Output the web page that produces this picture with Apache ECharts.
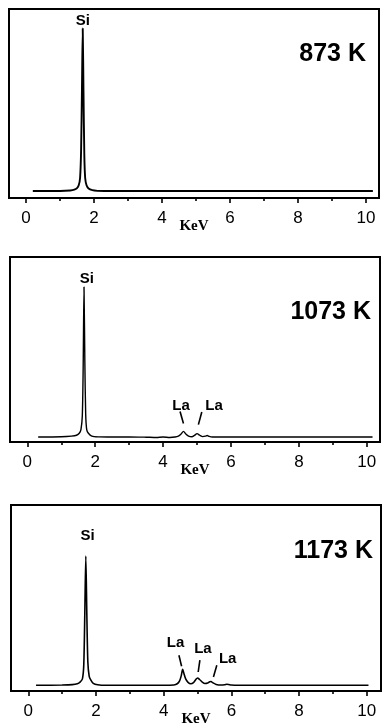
<!DOCTYPE html>
<html>
<head>
<meta charset="utf-8">
<script src="https://cdn.jsdelivr.net/npm/echarts@6/dist/echarts.min.js"></script>
<style>
  html, body { margin: 0; padding: 0; background: #fff; }
  #chart { width: 382px; height: 728px; }
</style>
</head>
<body>
<div id="chart"></div>
<script>
// EDX spectra of the film annealed at three temperatures (intensity in arbitrary units)
const majorTicks = [0, 2, 4, 6, 8, 10];
const minorTicks = [1, 3, 5, 7, 9];
const panelTitles = ['873 K', '1073 K', '1173 K'];

const energy873 = [0.2, 1.0, 1.3, 1.42, 1.5, 1.55, 1.59, 1.62, 1.645, 1.668, 1.69, 1.715, 1.74, 1.78, 1.84, 1.95, 2.1, 2.3, 10.2];
const counts873 = [0, 0, 0.3, 0.8, 1.8, 3.5, 8, 25, 62, 100, 62, 22, 8, 3.5, 1.5, 0.5, 0.1, 0, 0];

const energy1073 = [0.32, 1.0, 1.3, 1.45, 1.53, 1.58, 1.62, 1.645, 1.67, 1.695, 1.72, 1.75, 1.8, 1.9, 2.1, 2.5, 3.0, 3.5, 3.8, 4.0, 4.2, 4.35, 4.45, 4.53, 4.6, 4.67, 4.75, 4.85, 4.93, 5.0, 5.08, 5.17, 5.25, 5.3, 5.36, 5.45, 6.0, 10.17];
const counts1073 = [0, 0.2, 0.6, 1.2, 2.5, 5, 14, 45, 100, 50, 15, 5, 2.5, 0.6, 0.1, 0, 0.1, -0.1, -0.3, 0, -0.3, 0, 0.6, 2, 3.8, 2, 0.6, 0.2, 1.2, 2.3, 1.2, 0.3, 0.6, 1.0, 0.4, 0, 0, 0];

const energy1173 = [0.23, 1.0, 1.3, 1.45, 1.53, 1.6, 1.64, 1.67, 1.7, 1.73, 1.76, 1.8, 1.85, 1.92, 2.05, 2.3, 3.0, 4.0, 4.3, 4.4, 4.47, 4.52, 4.56, 4.6, 4.65, 4.72, 4.8, 4.88, 4.95, 5.0, 5.06, 5.14, 5.22, 5.3, 5.36, 5.4, 5.45, 5.55, 5.7, 5.8, 5.87, 5.92, 6.0, 6.2, 10.05];
const counts1173 = [0, 0.2, 0.5, 1.2, 2.5, 5, 16, 55, 100, 55, 18, 7, 4, 1.5, 0.4, 0, 0, 0, 0.3, 1.2, 3.5, 7.5, 12.4, 9, 5, 2.3, 1.2, 2, 4.5, 5.7, 4.5, 2.5, 1.4, 1.8, 2.8, 2.9, 2, 0.7, 0.2, 0.4, 0.8, 0.6, 0.2, 0, 0];

// peak labels: [energy, intensity, text]
const labels873 = [[1.67, 104.6, 'Si']];
const labels1073 = [[1.75, 105.6, 'Si'], [4.53, 20.8, 'La'], [5.50, 20.8, 'La']];
const labels1173 = [[1.75, 115.5, 'Si'], [4.35, 33, 'La'], [5.16, 27.9, 'La'], [5.89, 20.4, 'La']];
// leader strokes from label to peak: [e1, v1, e2, v2]
const leaders1073 = [[4.50, 17.0, 4.60, 9.0], [5.14, 16.7, 5.04, 8.3]];
const leaders1173 = [[4.45, 23.3, 4.53, 14.7], [5.07, 19.4, 5.02, 10.3], [5.57, 15.5, 5.47, 6.4]];

const panels = [
  { grid: { left: 9, top: 9, width: 370, height: 189 }, x: [-0.5, 10.38], y: [-4.3, 112], e: energy873, c: counts873, labels: labels873, leaders: [], lw: 1.9, title: [366, 54] },
  { grid: { left: 10, top: 257, width: 370, height: 185 }, x: [-0.51, 10.39], y: [-3.3, 120], e: energy1073, c: counts1073, labels: labels1073, leaders: leaders1073, lw: 1.4, title: [371, 312] },
  { grid: { left: 11, top: 505, width: 370, height: 186 }, x: [-0.51, 10.42], y: [-4.4, 139.5], e: energy1173, c: counts1173, labels: labels1173, leaders: leaders1173, lw: 1.6, title: [373, 551] }
];

const grids = [], xAxes = [], yAxes = [], series = [], graphics = [];
panels.forEach((p, i) => {
  grids.push(Object.assign({ show: true, borderColor: '#000', borderWidth: 2, backgroundColor: 'transparent' }, p.grid));
  // labelled axis with long ticks at even energies
  xAxes.push({
    type: 'value', gridIndex: i, min: p.x[0], max: p.x[1], position: 'bottom',
    name: 'KeV', nameLocation: 'middle', nameGap: 21, nameMoveOverlap: false,
    nameTextStyle: { fontFamily: 'Liberation Serif', fontWeight: 'bold', fontSize: 15, color: '#000' },
    axisLine: { show: true, onZero: false, lineStyle: { color: '#000', width: 2 } },
    axisTick: { show: true, inside: false, length: 5, lineStyle: { color: '#000', width: 1.6 }, customValues: majorTicks },
    axisLabel: { show: true, margin: 12, fontFamily: 'Liberation Sans', fontSize: 17, color: '#000', customValues: majorTicks, formatter: v => String(v) },
    splitLine: { show: false }
  });
  // short ticks at odd energies
  xAxes.push({
    type: 'value', gridIndex: i, min: p.x[0], max: p.x[1], position: 'bottom',
    axisLine: { show: false, onZero: false },
    axisTick: { show: true, inside: false, length: 3, lineStyle: { color: '#000', width: 1.6 }, customValues: minorTicks },
    axisLabel: { show: false },
    splitLine: { show: false }
  });
  yAxes.push({
    type: 'value', gridIndex: i, min: p.y[0], max: p.y[1],
    axisLine: { show: false }, axisTick: { show: false }, axisLabel: { show: false }, splitLine: { show: false }
  });
  series.push({
    type: 'line', xAxisIndex: 2 * i, yAxisIndex: i,
    data: p.e.map((e, k) => [e, p.c[k]]),
    showSymbol: false, symbol: 'none', smooth: 0.25, animation: false,
    lineStyle: { color: '#000', width: p.lw },
    markPoint: {
      symbol: 'circle', symbolSize: 1, itemStyle: { color: 'rgba(0,0,0,0)' }, animation: false, silent: true,
      label: { show: true, position: 'inside', fontFamily: 'Liberation Sans', fontWeight: 'bold', fontSize: 15, color: '#000', formatter: d => d.name },
      data: p.labels.map(l => ({ name: l[2], coord: [l[0], l[1]] }))
    },
    markLine: {
      symbol: ['none', 'none'], silent: true, animation: false,
      label: { show: false },
      lineStyle: { color: '#000', width: 1.6, type: 'solid' },
      data: p.leaders.map(s => [{ coord: [s[0], s[1]] }, { coord: [s[2], s[3]] }])
    }
  });
  graphics.push({
    type: 'text', x: p.title[0], y: p.title[1],
    style: { text: panelTitles[i], fontFamily: 'Liberation Sans', fontWeight: 'bold', fontSize: 25, fill: '#000', align: 'right', verticalAlign: 'middle' }
  });
});

const chart = echarts.init(document.getElementById('chart'), null, { renderer: 'canvas' });
chart.setOption({
  animation: false,
  backgroundColor: '#fff',
  grid: grids,
  xAxis: xAxes,
  yAxis: yAxes,
  series: series,
  graphic: graphics
});
</script>
</body>
</html>
